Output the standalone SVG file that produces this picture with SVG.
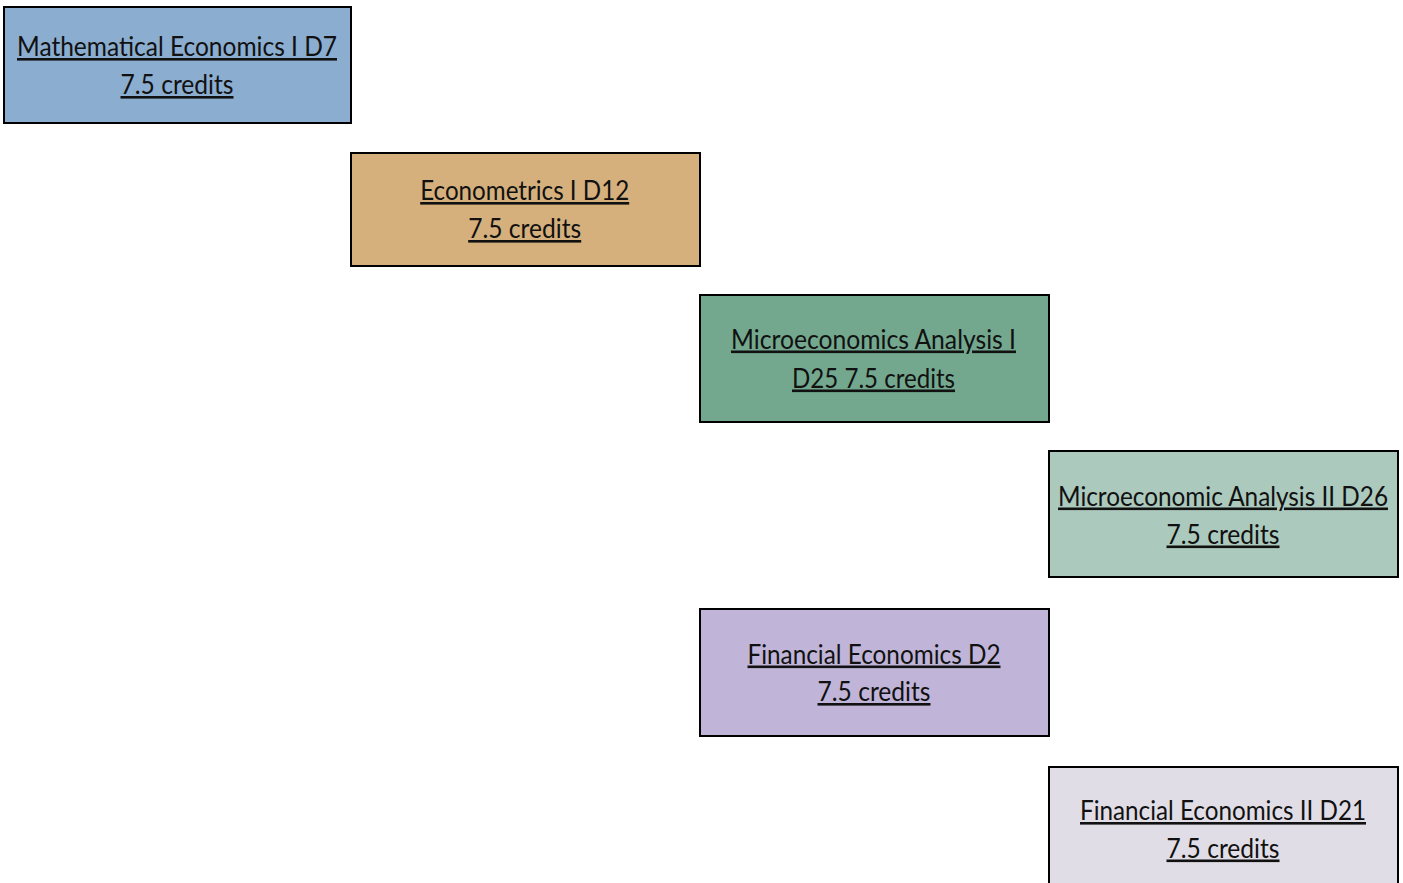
<svg xmlns="http://www.w3.org/2000/svg" width="1403" height="883" viewBox="0 0 1403 883">
<style>
.box{stroke:#000;stroke-width:2}
.t{font-family:Lato,"Liberation Sans",sans-serif;font-size:26px;fill:#111;text-anchor:middle;text-decoration:underline}
</style>
<rect width="1403" height="883" fill="#fff"/>
<g id="connectors"></g>
<g id="n1">
<rect class="box" x="4" y="7" width="347" height="116" fill="#8BADD0"/>
<text class="t" x="177" y="56" textLength="320" lengthAdjust="spacingAndGlyphs">Mathematical Economics I D7</text>
<text class="t" x="177" y="94" textLength="113" lengthAdjust="spacingAndGlyphs">7.5 credits</text>
</g>
<g id="n2">
<rect class="box" x="351" y="153" width="349" height="113" fill="#D5B07D"/>
<text class="t" x="524.7" y="200" textLength="209" lengthAdjust="spacingAndGlyphs">Econometrics I D12</text>
<text class="t" x="524.7" y="238" textLength="113" lengthAdjust="spacingAndGlyphs">7.5 credits</text>
</g>
<g id="n3">
<rect class="box" x="700" y="295" width="349" height="127" fill="#73A88F"/>
<text class="t" x="873.5" y="348.5" textLength="285" lengthAdjust="spacingAndGlyphs">Microeconomics Analysis I</text>
<text class="t" x="873.5" y="387.5" textLength="163" lengthAdjust="spacingAndGlyphs">D25 7.5 credits</text>
</g>
<g id="n4">
<rect class="box" x="1049" y="451" width="349" height="126" fill="#ACC9BD"/>
<text class="t" x="1223" y="505.5" textLength="330" lengthAdjust="spacingAndGlyphs">Microeconomic Analysis II D26</text>
<text class="t" x="1223" y="543.5" textLength="113" lengthAdjust="spacingAndGlyphs">7.5 credits</text>
</g>
<g id="n5">
<rect class="box" x="700" y="609" width="349" height="127" fill="#C0B5D8"/>
<text class="t" x="874" y="663.5" textLength="253" lengthAdjust="spacingAndGlyphs">Financial Economics D2</text>
<text class="t" x="874" y="701" textLength="113" lengthAdjust="spacingAndGlyphs">7.5 credits</text>
</g>
<g id="n6">
<rect class="box" x="1049" y="767" width="349" height="130" fill="#E1DDE6"/>
<text class="t" x="1223" y="820" textLength="286" lengthAdjust="spacingAndGlyphs">Financial Economics II D21</text>
<text class="t" x="1223" y="857.5" textLength="113" lengthAdjust="spacingAndGlyphs">7.5 credits</text>
</g>
</svg>
